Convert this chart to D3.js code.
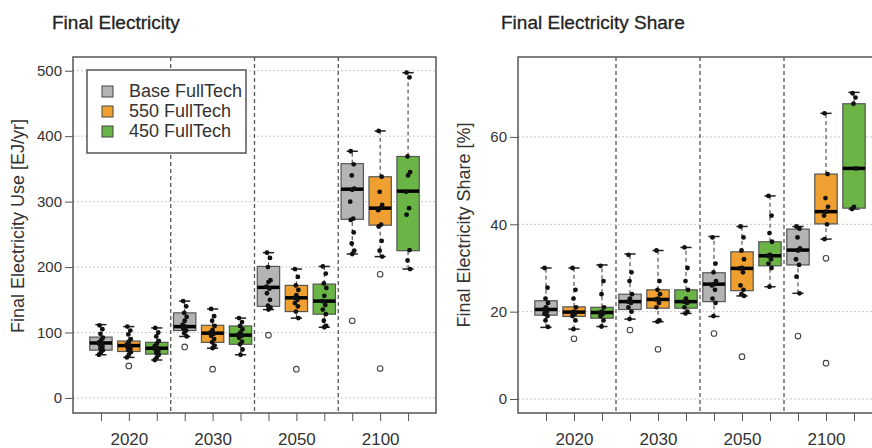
<!DOCTYPE html>
<html>
<head>
<meta charset="utf-8">
<script src="https://cdn.jsdelivr.net/npm/d3@7"></script>
<style>
  body { margin: 0; background: #fff; }
  text { font-family: "Liberation Sans", Arial, sans-serif; fill: #333; }
</style>
</head>
<body>
<div id="chart"></div>
<script>
// categories
const years = ["2020", "2030", "2050", "2100"];
const scenarios = ["Base FullTech", "550 FullTech", "450 FullTech"];
const colors = ["#b4b4b4", "#f0a030", "#6ab545"];

// Final electricity use [EJ/yr]: [whisker low, q1, median, q3, whisker high], 12 boxes (year x scenario)
const elecStats = [
  [66, 73, 84, 93, 112], [62, 71, 80, 87, 109], [58, 67, 76, 85, 107],
  [94, 103, 109, 130, 148], [76, 85, 99, 111, 136], [66, 82, 96, 110, 122],
  [135, 140, 169, 201, 222], [122, 132, 153, 172, 197], [108, 128, 148, 174, 201],
  [220, 273, 319, 358, 377], [216, 264, 290, 338, 408], [197, 225, 316, 369, 497]
];
const elecOutliers = [[], [49], [], [78], [44], [], [96], [44], [], [118], [189, 45], []];
const elecPoints = [
  [111, 105, 98, 92, 88, 85, 84, 82, 79, 76, 73, 70, 66],
  [109, 103, 97, 90, 86, 82, 80, 78, 76, 73, 70, 66, 62],
  [107, 100, 94, 87, 83, 79, 76, 74, 72, 69, 66, 62, 58],
  [148, 140, 130, 124, 118, 112, 109, 106, 103, 99, 94],
  [136, 125, 118, 110, 104, 100, 98, 95, 90, 85, 80, 76],
  [122, 116, 110, 105, 100, 97, 95, 92, 86, 82, 74, 66],
  [222, 214, 200, 180, 177, 170, 167, 160, 150, 141, 138, 135],
  [197, 185, 172, 165, 157, 153, 150, 145, 140, 132, 122],
  [201, 190, 175, 168, 156, 148, 142, 135, 128, 118, 110, 108],
  [377, 357, 340, 320, 318, 300, 274, 272, 253, 236, 225, 220],
  [408, 338, 315, 295, 290, 287, 265, 262, 240, 225, 216],
  [497, 490, 369, 345, 340, 315, 290, 280, 226, 210, 197]
];

// Final electricity share [%]
const shareStats = [
  [16.4, 19.2, 20.5, 22.5, 30], [16, 18.9, 19.9, 21.1, 30], [16.6, 18.5, 19.8, 21, 30.7],
  [18.3, 20.5, 22.3, 24, 33.2], [17.7, 20.8, 22.8, 25, 34], [19.6, 20.8, 22.3, 25, 34.7],
  [18.9, 22.3, 26.3, 28.9, 37.2], [23.6, 24.8, 29.9, 33.7, 39.5], [25.7, 30.5, 32.8, 36, 46.5],
  [24.2, 30.7, 34.1, 38.9, 39.5], [36.6, 40.1, 42.9, 51.5, 65.4], [43.5, 43.7, 52.8, 67.6, 70.2]
];
const shareOutliers = [[], [13.8], [], [15.8], [11.4], [], [15], [9.7], [], [14.4], [32.2, 8.2], []];
const sharePoints = [
  [30, 25.5, 23, 22, 21, 20.5, 20, 19.5, 19, 18, 16.5],
  [30, 25, 23, 21, 20, 19.8, 19.5, 19, 18, 16],
  [30.5, 27, 24, 21, 20, 19.8, 19.5, 19, 18, 16.6],
  [33, 29, 27, 24, 23, 22.3, 22, 21, 20, 18.3],
  [34, 27, 25, 24, 23, 22.8, 22, 21, 18, 17.7],
  [34.7, 30, 27, 25, 23, 22.3, 22, 21, 20, 19.6],
  [37, 31, 29, 27, 26.3, 26, 25, 23, 22, 19],
  [39.5, 37, 34, 32, 30, 29.9, 29, 26, 25, 24, 23.6],
  [46.5, 42, 38, 36, 33, 32.8, 32, 31, 30, 25.7],
  [39.5, 39, 37, 34.5, 34, 32, 30.7, 28, 24.2],
  [65.4, 51.5, 46, 44, 42.9, 42, 40, 36.6],
  [70, 69, 67.6, 52.8, 44, 43.5]
];

const elecTicks = [0, 100, 200, 300, 400, 500];
const shareTicks = [0, 20, 40, 60];

const W = 872, H = 448;
const svg = d3.select("#chart").append("svg")
  .attr("width", W)
  .attr("height", H);

const jitter = [-1.5, 1.5, -0.5, 2, 0, -2, 1];

function drawPanel(p) {
  const x = d3.scaleLinear().domain([0, 13]).range([p.left, p.right]);
  const y = d3.scaleLinear().domain(p.yDomain).range([413, 57]);
  const g = svg.append("g");
  const bw = x(0.8) - x(0);

  // title
  g.append("text").attr("x", p.titleX).attr("y", 29)
    .text(p.title).style("font-size", "19px").style("fill", "#222")
    .style("stroke", "#222").style("stroke-width", 0.3);

  // horizontal grid
  g.selectAll(".grid").data(p.ticks).join("line")
    .attr("x1", x(0)).attr("x2", x(13))
    .attr("y1", d => y(d)).attr("y2", d => y(d))
    .attr("stroke", "#c8c8c8").attr("stroke-dasharray", "2,2");

  // year separators
  g.selectAll(".sep").data([3.5, 6.5, 9.5]).join("line")
    .attr("x1", d => x(d)).attr("x2", d => x(d))
    .attr("y1", 57).attr("y2", 413)
    .attr("stroke", "#555").attr("stroke-width", 1.3).attr("stroke-dasharray", "4,3");

  const idx = d3.range(12);
  const boxes = g.selectAll(".box").data(idx).join("g");

  // whiskers
  boxes.append("line")
    .attr("x1", i => x(i + 1)).attr("x2", i => x(i + 1))
    .attr("y1", i => y(p.stats[i][0])).attr("y2", i => y(p.stats[i][1]))
    .attr("stroke", "#333").attr("stroke-dasharray", "4,3");
  boxes.append("line")
    .attr("x1", i => x(i + 1)).attr("x2", i => x(i + 1))
    .attr("y1", i => y(p.stats[i][3])).attr("y2", i => y(p.stats[i][4]))
    .attr("stroke", "#333").attr("stroke-dasharray", "4,3");
  // staples
  [0, 4].forEach(k => {
    boxes.append("line")
      .attr("x1", i => x(i + 1) - bw / 4).attr("x2", i => x(i + 1) + bw / 4)
      .attr("y1", i => y(p.stats[i][k])).attr("y2", i => y(p.stats[i][k]))
      .attr("stroke", "#222").attr("stroke-width", 1.5);
  });
  // box
  boxes.append("rect")
    .attr("x", i => x(i + 1) - bw / 2)
    .attr("y", i => y(p.stats[i][3]))
    .attr("width", bw)
    .attr("height", i => y(p.stats[i][1]) - y(p.stats[i][3]))
    .attr("fill", i => colors[i % 3])
    .attr("stroke", "#555").attr("stroke-width", 1.2);
  // median
  boxes.append("line")
    .attr("x1", i => x(i + 1) - bw / 2).attr("x2", i => x(i + 1) + bw / 2)
    .attr("y1", i => y(p.stats[i][2])).attr("y2", i => y(p.stats[i][2]))
    .attr("stroke", "#000").attr("stroke-width", 3.5);
  // outliers
  boxes.selectAll(".out").data(i => p.outliers[i].map(v => [i, v])).join("circle")
    .attr("cx", d => x(d[0] + 1)).attr("cy", d => y(d[1])).attr("r", 2.8)
    .attr("fill", "none").attr("stroke", "#444").attr("stroke-width", 1.1);
  // model points
  boxes.selectAll(".pt").data(i => p.points[i].map((v, j) => [i, v, j])).join("circle")
    .attr("cx", d => x(d[0] + 1) + jitter[d[2] % jitter.length])
    .attr("cy", d => y(d[1])).attr("r", 2.4)
    .attr("fill", "#111");

  // frame
  g.append("rect")
    .attr("x", x(0)).attr("y", 57)
    .attr("width", x(13) - x(0)).attr("height", 413 - 57)
    .attr("fill", "none").attr("stroke", "#555").attr("stroke-width", 1.5);

  // y axis
  const ya = g.append("g")
    .attr("transform", `translate(${x(0)},0)`)
    .call(d3.axisLeft(y).tickValues(p.ticks).tickSize(8).tickPadding(3));
  ya.select(".domain").remove();
  ya.selectAll("line").attr("stroke", "#555");
  ya.selectAll("text").style("font-size", "15px").style("fill", "#333");

  // x axis
  const xa = g.append("g")
    .attr("transform", "translate(0,413)")
    .call(d3.axisBottom(x).tickValues(d3.range(1, 13)).tickSize(8).tickPadding(12)
      .tickFormat(d => (d % 3 === 2 ? years[(d - 2) / 3] : "")));
  xa.select(".domain").remove();
  xa.selectAll("line").attr("stroke", "#555");
  xa.selectAll("text").style("font-size", "17px").style("fill", "#333");

  // y label
  g.append("text")
    .attr("transform", `translate(${p.labelX},${p.labelY}) rotate(-90)`)
    .attr("text-anchor", "middle")
    .text(p.yLabel).style("font-size", "18px").style("fill", "#333");
}

drawPanel({
  left: 73, right: 436, yDomain: [-23, 521],
  stats: elecStats, outliers: elecOutliers, points: elecPoints, ticks: elecTicks,
  title: "Final Electricity", titleX: 52,
  yLabel: "Final Electricity Use [EJ/yr]", labelX: 24, labelY: 226
});

drawPanel({
  left: 518, right: 882, yDomain: [-3.2, 78.3],
  stats: shareStats, outliers: shareOutliers, points: sharePoints, ticks: shareTicks,
  title: "Final Electricity Share", titleX: 501,
  yLabel: "Final Electricity Share [%]", labelX: 470, labelY: 225
});

// legend
const legend = svg.append("g");
legend.append("rect")
  .attr("x", 87).attr("y", 70).attr("width", 159).attr("height", 83)
  .attr("fill", "#fff").attr("stroke", "#555").attr("stroke-width", 1.5);
scenarios.forEach((s, i) => {
  legend.append("rect")
    .attr("x", 102).attr("y", 86 + i * 20).attr("width", 11).attr("height", 11)
    .attr("fill", colors[i]).attr("stroke", "#444");
  legend.append("text")
    .attr("x", 129).attr("y", 97 + i * 20)
    .text(s).style("font-size", "18px");
});
</script>
</body>
</html>
